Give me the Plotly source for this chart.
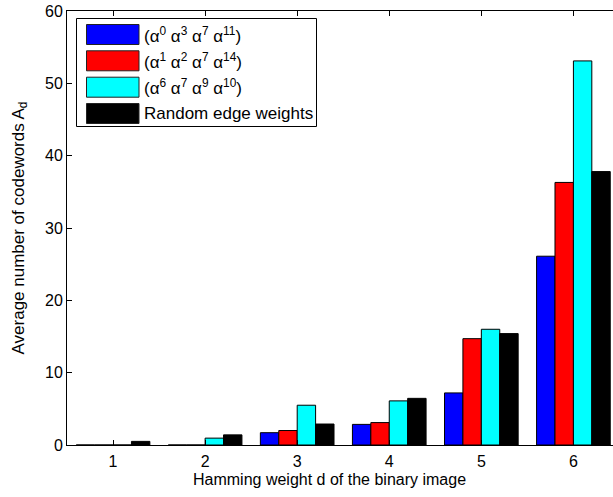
import plotly.graph_objects as go

# Hamming weight of the binary image
weights = [1, 2, 3, 4, 5, 6]

# Average number of codewords A_d for each edge-weight choice
series_names = [
    "(α<sup>0</sup> α<sup>3</sup> α<sup>7</sup> α<sup>11</sup>)",
    "(α<sup>1</sup> α<sup>2</sup> α<sup>7</sup> α<sup>14</sup>)",
    "(α<sup>6</sup> α<sup>7</sup> α<sup>9</sup> α<sup>10</sup>)",
    "Random edge weights",
]
a0_3_7_11 = [0.0, 0.0, 1.7, 2.85, 7.2, 26.1]
a1_2_7_14 = [0.0, 0.0, 2.0, 3.1, 14.7, 36.3]
a6_7_9_10 = [0.0, 0.95, 5.5, 6.1, 16.0, 53.1]
random_edge = [0.5, 1.4, 2.9, 6.45, 15.4, 37.8]

series_values = [a0_3_7_11, a1_2_7_14, a6_7_9_10, random_edge]
series_colors = ["#0000FF", "#FF0000", "#00FFFF", "#000000"]

y_ticks = [0, 10, 20, 30, 40, 50, 60]

W, H = 613, 497
ML, MR, MT, MB = 67, 0, 11, 52
PW, PH = W - ML - MR, H - MT - MB

FONT = "Liberation Sans, Arial, Helvetica, sans-serif"

fig = go.Figure()
for name, vals, col in zip(series_names, series_values, series_colors):
    fig.add_trace(go.Bar(
        x=weights, y=vals, name=name,
        marker=dict(color=col, line=dict(color="#000000", width=1)),
        showlegend=False,
    ))


def px(x):
    return (x - ML) / PW


def py(y):
    return (MT + PH - y) / PH


# Boxed legend drawn in the upper-left corner of the axes
shapes = [dict(type="rect", xref="paper", yref="paper",
               x0=px(76.5), x1=px(316.5), y0=py(18.5), y1=py(126.5),
               line=dict(color="#000000", width=1), fillcolor="#FFFFFF", layer="above")]
annotations = []
row_centers = [34.5, 60.8, 87.2, 113.5]
for name, col, yc in zip(series_names, series_colors, row_centers):
    shapes.append(dict(type="rect", xref="paper", yref="paper",
                       x0=px(86.5), x1=px(139), y0=py(yc - 10), y1=py(yc + 10),
                       line=dict(color="#222222", width=1), fillcolor=col, layer="above"))
    annotations.append(dict(xref="paper", yref="paper", x=px(142), y=py(yc),
                            xanchor="left", yanchor="middle", showarrow=False,
                            text=name, font=dict(family=FONT, size=17, color="#000000")))

# x-axis title
annotations.append(dict(xref="paper", yref="paper", x=px(329), y=py(480),
                        xanchor="center", yanchor="middle", showarrow=False,
                        text="Hamming weight d of the binary image",
                        font=dict(family=FONT, size=16, color="#000000")))

fig.update_layout(
    width=W, height=H,
    margin=dict(l=ML, r=MR, t=MT, b=MB),
    paper_bgcolor="#FFFFFF", plot_bgcolor="#FFFFFF",
    barmode="group", bargap=0.2, bargroupgap=0.0,
    font=dict(family=FONT, size=16, color="#000000"),
    shapes=shapes, annotations=annotations,
    xaxis=dict(
        range=[0.5, 6.43], tickmode="array", tickvals=weights,
        ticktext=[str(w) for w in weights],
        ticks="inside", ticklen=5, tickcolor="#000000",
        showline=True, linecolor="#000000", linewidth=1, mirror="ticks",
        showgrid=False, zeroline=False,
        tickfont=dict(size=16), ticklabelstandoff=2,
    ),
    yaxis=dict(
        range=[0, 60], tickmode="array", tickvals=y_ticks,
        ticks="inside", ticklen=5, tickcolor="#000000",
        showline=True, linecolor="#000000", linewidth=1, mirror=False,
        showgrid=False, zeroline=False,
        tickfont=dict(size=16), ticklabelstandoff=0,
        title=dict(text="Average number of codewords A<sub>d</sub>",
                   font=dict(size=17), standoff=16),
    ),
)

fig.write_html("out.html")
